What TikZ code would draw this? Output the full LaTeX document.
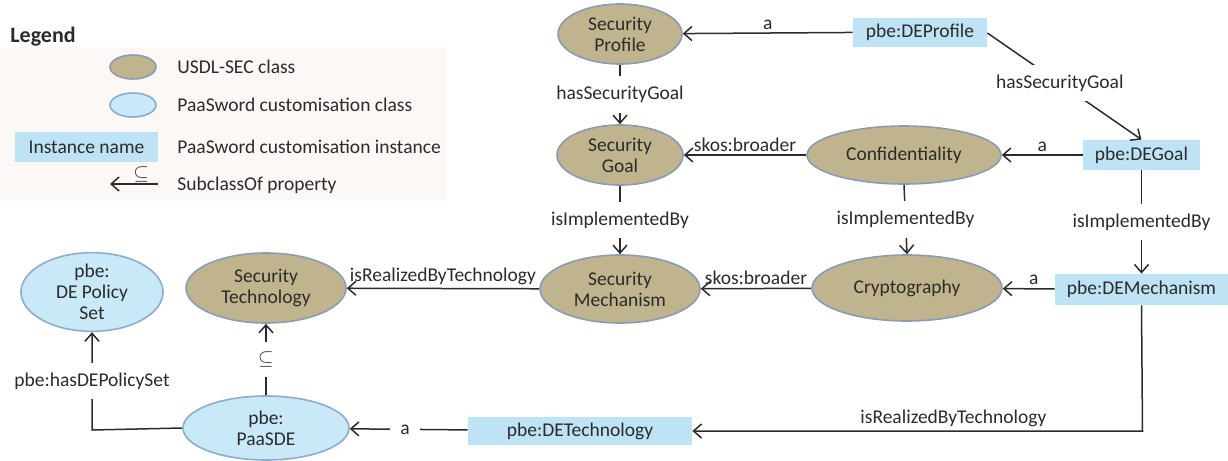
\documentclass[tikz,border=0pt]{standalone}
\usepackage{fontspec}
\setmainfont{Carlito}
\usetikzlibrary{shapes.geometric,arrows.meta}

\definecolor{tanfill}{HTML}{C0B48F}
\definecolor{tanline}{HTML}{8A9BB3}
\definecolor{bluefill}{HTML}{C9E8F8}
\definecolor{blueline}{HTML}{8EABCB}
\definecolor{instfill}{HTML}{BEE3F5}
\definecolor{legendbg}{HTML}{FCF8F5}
\definecolor{ink}{HTML}{2B2B2B}

\begin{document}
\begin{tikzpicture}[x=0.5pt,y=-0.5pt,
  every node/.style={font=\fontsize{9.75}{10.5}\selectfont, text=ink},
  usdl/.style={ellipse, draw=tanline, line width=0.8pt, fill=tanfill, inner sep=0pt, align=center},
  custom/.style={ellipse, draw=blueline, line width=0.8pt, fill=bluefill, inner sep=0pt, align=center},
  inst/.style={rectangle, fill=instfill, inner sep=0pt},
  rel/.style={draw=ink, line width=0.75pt, -{Straight Barb[length=4pt,width=7pt]}},
  plain/.style={draw=ink, line width=0.75pt},
  cut/.style={fill=white, inner sep=5pt},
  over/.style={above, inner sep=1.5pt},
  legtext/.style={anchor=west, inner sep=0pt},
]
\useasboundingbox (0,0) rectangle (1228,461);

% ---------- legend ----------
\fill[legendbg] (0,47) rectangle (447,200);
\node[anchor=west, inner sep=0pt, font=\bfseries\fontsize{11}{13}\selectfont] (legtitle) at (10,37) {Legend};
\node[usdl, minimum width=23pt, minimum height=12pt] (ltan) at (133,67) {};
\node[legtext] (ltantxt) at (177,67) {USDL-SEC class};
\node[custom, minimum width=23pt, minimum height=12pt] (lblue) at (133,105) {};
\node[legtext] (lbluetxt) at (177,105) {PaaSword customisation class};
\node[inst, minimum width=71.5pt, minimum height=15pt] (linst) at (86.5,147) {Instance name};
\node[legtext] (linsttxt) at (177,147) {PaaSword customisation instance};
\coordinate (lsubR) at (158,184);
\coordinate (lsubL) at (110,184);
\draw[rel] (lsubR) -- node[above, inner sep=0.5pt, pos=0.35] {$\subseteq$} (lsubL);
\node[legtext] (lsubtxt) at (177,185) {SubclassOf property};

% ---------- classes ----------
\node[usdl, minimum width=62pt, minimum height=30pt] (prof) at (620,34) {Security\\Profile};
\node[usdl, minimum width=63pt, minimum height=30pt] (goal) at (620,155) {Security\\Goal};
\node[usdl, minimum width=97pt, minimum height=29pt] (conf) at (904,155) {Confidentiality};
\node[usdl, minimum width=80pt, minimum height=34pt] (mech) at (620,289) {Security\\Mechanism};
\node[usdl, minimum width=95pt, minimum height=33pt] (crypt) at (907,288) {Cryptography};
\node[usdl, minimum width=80pt, minimum height=35pt] (tech) at (266,288) {Security\\Technology};
\node[custom, minimum width=71pt, minimum height=35pt] (pol) at (92,292) {pbe:\\DE Policy\\Set};
\node[custom, minimum width=83pt, minimum height=32pt] (paas) at (266,428) {pbe:\\PaaSDE};

% ---------- instances ----------
\node[inst, minimum width=67pt, minimum height=14.5pt] (deprof) at (920,32) {pbe:DEProfile};
\node[inst, minimum width=58.5pt, minimum height=15pt] (degoal) at (1141.5,155) {pbe:DEGoal};
\node[inst, minimum width=86.5pt, minimum height=15.5pt] (demech) at (1141.5,289.5) {pbe:DEMechanism};
\node[inst, minimum width=112pt, minimum height=14pt] (detech) at (580,431) {pbe:DETechnology};

% ---------- relations ----------
\draw[rel] (deprof) -- node[over] {a} (prof);
\draw[rel] (prof) -- node[cut] {hasSecurityGoal} (goal);
\draw[rel] (deprof.east) ++(0,1) coordinate (dpe) (dpe) -- node[cut, pos=0.47] {hasSecurityGoal} (degoal.north);
\draw[rel] (conf) -- node[over] {skos:broader} (goal);
\draw[rel] (degoal) -- node[over] {a} (conf);
\draw[rel] (goal) -- node[cut] {isImplementedBy} (mech);
\draw[rel] (conf.south) -- node[cut] {isImplementedBy} (crypt.north);
\draw[rel] (degoal) -- node[cut] {isImplementedBy} (demech);
\draw[rel] (demech) -- node[over, pos=0.4] {a} (crypt);
\draw[rel] (crypt) -- node[over] {skos:broader} (mech);
\draw[rel] (mech) -- node[over] {isRealizedByTechnology} (tech);
\coordinate (bend) at (1142.5,431);
\draw[rel] (demech.south) -- (bend) -- node[over, pos=0.42] {isRealizedByTechnology} (detech.east);
\draw[rel] (detech) -- node[cut, pos=0.53] {a} (paas);
\draw[rel] (paas.north) -- node[cut] {$\subseteq$} (tech.south);
\coordinate (polcorner) at (92,430);
\draw[rel] (paas.west) -- (polcorner) -- node[cut, pos=0.5] {pbe:hasDEPolicySet} (pol.south);
\end{tikzpicture}
\end{document}
